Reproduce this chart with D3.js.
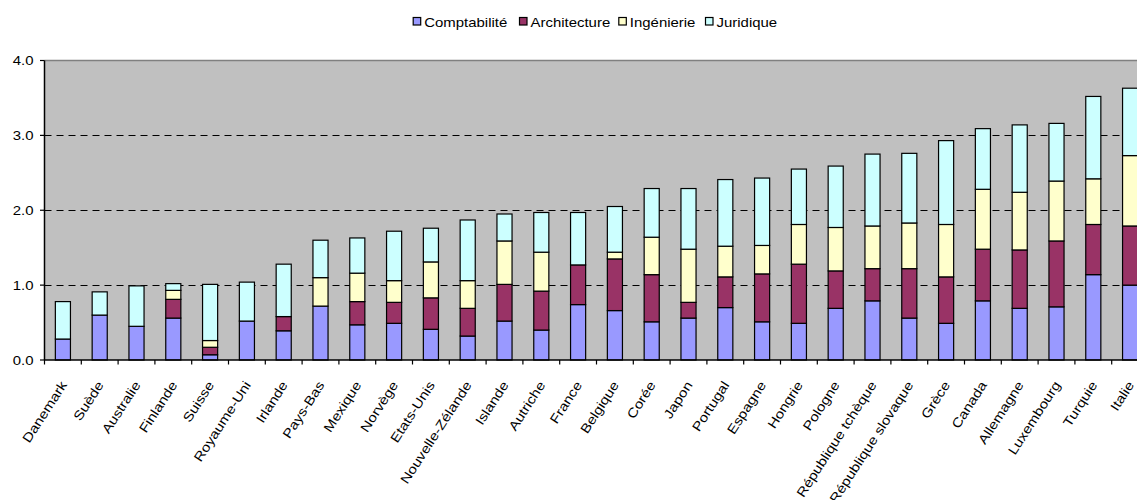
<!DOCTYPE html>
<html>
<head>
<meta charset="utf-8">
<script src="https://cdn.jsdelivr.net/npm/d3@7"></script>
<style>
  html, body { margin: 0; padding: 0; background: #fff; overflow: hidden; }
  svg { display: block; font-family: "Liberation Sans", Arial, sans-serif; }
</style>
</head>
<body>
<svg id="chart" width="1137" height="500"></svg>
<script>
// Countries along the x axis
const countries = ["Danemark", "Suède", "Australie", "Finlande", "Suisse", "Royaume-Uni", "Irlande",
  "Pays-Bas", "Mexique", "Norvège", "Etats-Unis", "Nouvelle-Zélande", "Islande", "Autriche", "France",
  "Belgique", "Corée", "Japon", "Portugal", "Espagne", "Hongrie", "Pologne", "République tchèque",
  "République slovaque", "Grèce", "Canada", "Allemagne", "Luxembourg", "Turquie", "Italie"];

// Series names (legend order, stacked bottom to top)
const seriesNames = ["Comptabilité", "Architecture", "Ingénierie", "Juridique"];

// Values per series, one per country
const comptabilite = [0.28, 0.60, 0.45, 0.56, 0.07, 0.52, 0.39, 0.72, 0.47, 0.49, 0.41, 0.32, 0.52, 0.40, 0.74,
  0.66, 0.51, 0.56, 0.70, 0.51, 0.49, 0.69, 0.79, 0.56, 0.49, 0.79, 0.69, 0.71, 1.14, 1.00];
const architecture = [0, 0, 0, 0.25, 0.10, 0, 0.19, 0, 0.31, 0.28, 0.42, 0.37, 0.49, 0.52, 0.53,
  0.69, 0.63, 0.21, 0.41, 0.64, 0.79, 0.50, 0.43, 0.66, 0.62, 0.69, 0.78, 0.88, 0.67, 0.79];
const ingenierie = [0, 0, 0, 0.12, 0.09, 0, 0, 0.38, 0.38, 0.29, 0.48, 0.37, 0.58, 0.52, 0,
  0.09, 0.50, 0.71, 0.41, 0.38, 0.53, 0.58, 0.57, 0.61, 0.70, 0.80, 0.77, 0.80, 0.61, 0.94];
const juridique = [0.50, 0.31, 0.54, 0.09, 0.75, 0.52, 0.70, 0.50, 0.47, 0.66, 0.45, 0.81, 0.36, 0.53, 0.70,
  0.61, 0.65, 0.81, 0.89, 0.90, 0.74, 0.82, 0.96, 0.93, 1.12, 0.81, 0.90, 0.77, 1.10, 0.90];

// Y axis ticks
const yTicks = [0, 1, 2, 3, 4];

const colors = ["#9999FF", "#993366", "#FFFFCC", "#CCFFFF"];
const seriesValues = [comptabilite, architecture, ingenierie, juridique];

const rows = countries.map((c, i) => {
  const r = { country: c };
  seriesNames.forEach((s, k) => { r[s] = seriesValues[k][i]; });
  return r;
});

const svg = d3.select("#chart");
const plotLeft = 44.5, plotTop = 60.5, plotBottom = 360;
const step = 36.8;
const plotRight = plotLeft + step * countries.length;

const x = d3.scaleBand().domain(countries).range([plotLeft, plotRight]).paddingInner(0.59).paddingOuter(0.295);
const y = d3.scaleLinear().domain([0, 4]).range([plotBottom, plotTop]);

// Plot area background
svg.append("rect")
  .attr("x", plotLeft).attr("y", plotTop)
  .attr("width", plotRight - plotLeft).attr("height", plotBottom - plotTop)
  .attr("fill", "#C0C0C0");
svg.append("line")
  .attr("x1", plotLeft).attr("x2", plotRight)
  .attr("y1", plotTop).attr("y2", plotTop)
  .attr("stroke", "#808080").attr("stroke-width", 1.5);

// Dashed gridlines
svg.append("g").selectAll("line")
  .data(yTicks.filter(t => t > 0 && t < 4))
  .join("line")
  .attr("x1", plotLeft).attr("x2", plotRight)
  .attr("y1", d => Math.round(y(d)) + 0.5).attr("y2", d => Math.round(y(d)) + 0.5)
  .attr("stroke", "#000").attr("stroke-width", 1)
  .attr("stroke-dasharray", "7,5");

// Stacked bars
const stacked = d3.stack().keys(seriesNames)(rows);
svg.append("g").selectAll("g")
  .data(stacked)
  .join("g")
  .attr("fill", (d, i) => colors[i])
  .selectAll("rect")
  .data(d => d.filter(p => p[1] - p[0] > 0))
  .join("rect")
  .attr("x", d => x(d.data.country))
  .attr("width", x.bandwidth())
  .attr("y", d => y(d[1]))
  .attr("height", d => y(d[0]) - y(d[1]))
  .attr("stroke", "#000")
  .attr("stroke-width", 1.2);

// Y axis
const yAxis = svg.append("g").attr("transform", `translate(${plotLeft},0)`);
yAxis.append("line")
  .attr("x1", 0).attr("x2", 0).attr("y1", plotTop).attr("y2", plotBottom)
  .attr("stroke", "#000").attr("stroke-width", 1.5);
const yt = yAxis.selectAll("g.tick").data(yTicks).join("g")
  .attr("class", "tick")
  .attr("transform", d => `translate(0,${y(d)})`);
yt.append("line").attr("x1", -4.5).attr("x2", 0).attr("stroke", "#000").attr("stroke-width", 1.2);
yt.append("text")
  .attr("transform", "translate(-11,4.6) scale(1.15,1)")
  .attr("text-anchor", "end")
  .attr("font-size", 13)
  .attr("fill", "#000")
  .text(d => d3.format(".1f")(d));

// X axis
const xAxis = svg.append("g");
xAxis.append("line")
  .attr("x1", plotLeft).attr("x2", plotRight).attr("y1", plotBottom).attr("y2", plotBottom)
  .attr("stroke", "#000").attr("stroke-width", 1.5);
xAxis.selectAll("line.tick")
  .data(d3.range(countries.length + 1))
  .join("line")
  .attr("class", "tick")
  .attr("x1", i => plotLeft + i * x.step()).attr("x2", i => plotLeft + i * x.step())
  .attr("y1", plotBottom).attr("y2", plotBottom + 4.5)
  .attr("stroke", "#000").attr("stroke-width", 1.2);
xAxis.selectAll("text")
  .data(countries)
  .join("text")
  .attr("transform", d => `translate(${x(d) + x.bandwidth() / 2 + 4.5},${plotBottom + 25}) rotate(-57) scale(1.17,1)`)
  .attr("text-anchor", "end")
  .attr("font-size", 13)
  .attr("fill", "#000")
  .text(d => d);

// Legend
const legendX = [412.7, 519, 618.3, 705];
const legend = svg.append("g").selectAll("g")
  .data(seriesNames)
  .join("g")
  .attr("transform", (d, i) => `translate(${legendX[i]},0)`);
legend.append("rect")
  .attr("x", 0.5).attr("y", 17.5).attr("width", 7.5).attr("height", 7.5)
  .attr("fill", (d, i) => colors[i])
  .attr("stroke", "#000").attr("stroke-width", 1.2);
legend.append("text")
  .attr("transform", "translate(11.5,27) scale(1.15,1)")
  .attr("font-size", 13)
  .attr("fill", "#000")
  .text(d => d);
</script>
</body>
</html>
